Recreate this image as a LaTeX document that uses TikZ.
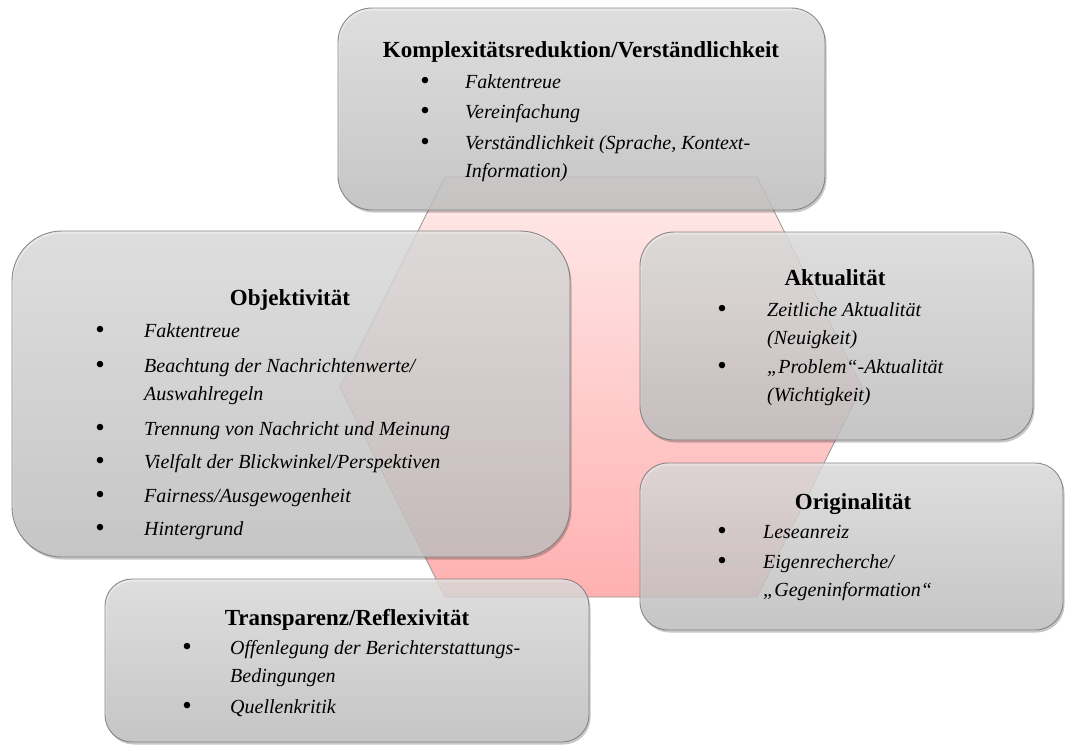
\documentclass[tikz,border=0pt]{standalone}
\usepackage{fontspec}
\setmainfont{Liberation Serif}
\usetikzlibrary{shadows}
\definecolor{boxtop}{RGB}{228,228,228}
\definecolor{boxbot}{RGB}{198,198,198}
\definecolor{boxline}{RGB}{125,125,125}
\definecolor{hextop}{RGB}{255,234,234}
\definecolor{hexbot}{RGB}{255,176,176}
\definecolor{hexline}{RGB}{150,150,150}
\tikzset{
  panel/.style={rectangle, rounded corners=#1, draw=boxline, line width=0.9pt,
    top color=boxtop, bottom color=boxbot, fill opacity=0.8, draw opacity=0.9,
    drop shadow={opacity=0.22, shadow xshift=1.5pt, shadow yshift=-2.5pt, fill=black}},
  ttl/.style={font=\fontsize{23}{28}\selectfont\bfseries, anchor=base, inner sep=0pt},
  itm/.style={font=\fontsize{20}{28}\selectfont\itshape, anchor=base west, inner sep=0pt},
  bul/.style={font=\fontsize{27}{28}\selectfont, anchor=base, inner sep=0pt, yshift=-1pt},
}
\begin{document}
\begin{tikzpicture}[x=1pt,y=-1pt]
\fill[white] (0,0) rectangle (1065,744);
\useasboundingbox (0,0) rectangle (1065,744);

% central hexagon
\shade[top color=hextop, bottom color=hexbot, draw=hexline, line width=0.8pt]
  (445,177) -- (757,177) -- (862,387) -- (757,597) -- (445,597) -- (340,387) -- cycle;

% panels
\node[panel=34pt, minimum width=487pt, minimum height=202pt] (kbox) at (581.5,109) {};
\node[panel=50pt, minimum width=558pt, minimum height=326pt] (obox) at (291,394) {};
\node[panel=34pt, minimum width=393pt, minimum height=208pt] (abox) at (836.5,336) {};
\node[panel=28pt, minimum width=423pt, minimum height=167pt] (gbox) at (851.5,546.5) {};
\node[panel=27pt, minimum width=484pt, minimum height=163pt] (tbox) at (347,660.5) {};

% Komplexitätsreduktion
\node[ttl] (kt) at (581,57) {Komplexitätsreduktion/Verständlichkeit};
\node[bul] (kb1) at (425,88) {\textbullet};
\node[itm] (k1) at (465,88) {Faktentreue};
\node[bul] (kb2) at (425,118) {\textbullet};
\node[itm] (k2) at (465,118) {Vereinfachung};
\node[bul] (kb3) at (425,149) {\textbullet};
\node[itm] (k3) at (465,149) {\parbox[t]{340pt}{Verständlichkeit (Sprache, Kontext-\\Information)}};

% Objektivität
\node[ttl] (ot) at (290,305) {Objektivität};
\node[bul] (ob1) at (100,337) {\textbullet};
\node[itm] (o1) at (144,337) {Faktentreue};
\node[bul] (ob2) at (100,372) {\textbullet};
\node[itm] (o2) at (144,372) {\parbox[t]{380pt}{Beachtung der Nachrichtenwerte/\\Auswahlregeln}};
\node[bul] (ob3) at (100,435) {\textbullet};
\node[itm] (o3) at (144,435) {Trennung von Nachricht und Meinung};
\node[bul] (ob4) at (100,468) {\textbullet};
\node[itm] (o4) at (144,468) {Vielfalt der Blickwinkel/Perspektiven};
\node[bul] (ob5) at (100,502) {\textbullet};
\node[itm] (o5) at (144,502) {Fairness/Ausgewogenheit};
\node[bul] (ob6) at (100,535) {\textbullet};
\node[itm] (o6) at (144,535) {Hintergrund};

% Aktualität
\node[ttl] (at) at (835,285) {Aktualität};
\node[bul] (ab1) at (722,316) {\textbullet};
\node[itm] (a1) at (767,316) {\parbox[t]{250pt}{Zeitliche Aktualität\\(Neuigkeit)}};
\node[bul] (ab2) at (722,373) {\textbullet};
\node[itm] (a2) at (767,373) {\parbox[t]{250pt}{„Problem“-Aktualität\\(Wichtigkeit)}};

% Originalität
\node[ttl] (gt) at (853,509) {Originalität};
\node[bul] (gb1) at (722,538) {\textbullet};
\node[itm] (g1) at (763,538) {Leseanreiz};
\node[bul] (gb2) at (722,568) {\textbullet};
\node[itm] (g2) at (763,568) {\parbox[t]{280pt}{Eigenrecherche/\\„Gegeninformation“}};

% Transparenz
\node[ttl] (tt) at (347,625) {Transparenz/Reflexivität};
\node[bul] (tb1) at (187,654) {\textbullet};
\node[itm] (t1) at (230,654) {\parbox[t]{350pt}{Offenlegung der Berichterstattungs-\\Bedingungen}};
\node[bul] (tb2) at (187,713) {\textbullet};
\node[itm] (t2) at (230,713) {Quellenkritik};
\end{tikzpicture}
\end{document}
